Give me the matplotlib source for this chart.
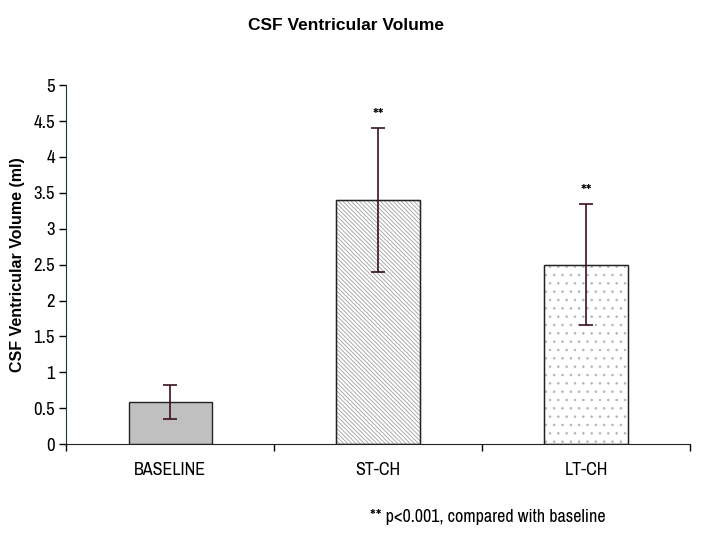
import numpy as np
import matplotlib.pyplot as plt
from matplotlib import font_manager

groups = ['BASELINE', 'ST-CH', 'LT-CH']
volume = [0.59, 3.40, 2.50]
err = [0.24, 1.00, 0.84]
marks = ['', '**', '**']
yticks = [0, 0.5, 1, 1.5, 2, 2.5, 3, 3.5, 4, 4.5, 5]

plt.rcParams['hatch.linewidth'] = 0.6

# look for a narrow face, otherwise shrink Liberation Sans a bit
names = {f.name for f in font_manager.fontManager.ttflist}
narrow_name = next((n for n in sorted(names) if 'Narrow' in n or 'Condensed' in n), None)
if narrow_name:
    narrow, nsize = [narrow_name, 'DejaVu Sans'], 13
else:
    narrow, nsize = ['Liberation Sans', 'DejaVu Sans'], 11

fig = plt.figure(figsize=(7.04, 5.39), dpi=100)
ax = fig.add_axes([0.094, 0.176, 0.886, 0.666])

x = np.arange(len(groups))
faces = ['#c0c0c0', 'white', 'white']
hatches = [None, '\\' * 8, '..']
hatch_cols = [None, '#a0a0a0', '#b5b5b5']
for i in x:
    b = ax.bar(x[i], volume[i], width=0.4, color=faces[i], edgecolor='#222222',
               linewidth=1.0, zorder=2)
    if hatches[i]:
        b[0].set_hatch(hatches[i])
        b[0].set_edgecolor(hatch_cols[i])
        ax.bar(x[i], volume[i], width=0.4, color='none', edgecolor='#222222',
               linewidth=1.0, zorder=3)
ax.errorbar(x, volume, yerr=err, fmt='none', ecolor='#3a1020', elinewidth=1.2,
            capsize=5, capthick=1.2, zorder=4)
for i in x:
    if marks[i]:
        ax.text(x[i], volume[i] + err[i] + 0.06, marks[i], ha='center', va='bottom',
                fontsize=nsize, family=narrow)

ax.set_xlim(-0.5, 2.5)
ax.set_ylim(0, 5)
ax.set_yticks(yticks)
ax.set_yticklabels([f'{v:g}' for v in yticks], family=narrow, fontsize=nsize + 0.5)
ax.set_xticks(x)
ax.set_xticklabels(groups, family=narrow, fontsize=nsize)
ax.tick_params(axis='x', length=0, pad=13)
ax.set_xticks([-0.5, 0.5, 1.5, 2.5], minor=True)
ax.tick_params(axis='x', which='minor', length=5, direction='out', width=1)
ax.tick_params(axis='y', length=5, direction='out', width=1, pad=3)
for s in ['top', 'right']:
    ax.spines[s].set_visible(False)
ax.spines['left'].set_color('#1a3a3a')
ax.spines['bottom'].set_color('#222222')

ax.set_ylabel('CSF Ventricular Volume (ml)', fontsize=11.5, fontweight='bold',
              family=['Liberation Sans', 'DejaVu Sans'], labelpad=6)
fig.text(0.492, 0.953, 'CSF Ventricular Volume', ha='center', va='center',
         fontsize=12.5, fontweight='bold', family=['Liberation Sans', 'DejaVu Sans'])
fig.text(0.525, 0.04, '** p<0.001, compared with baseline', ha='left', va='center',
         fontsize=nsize, family=narrow)

fig.savefig('out.png', dpi=100)
